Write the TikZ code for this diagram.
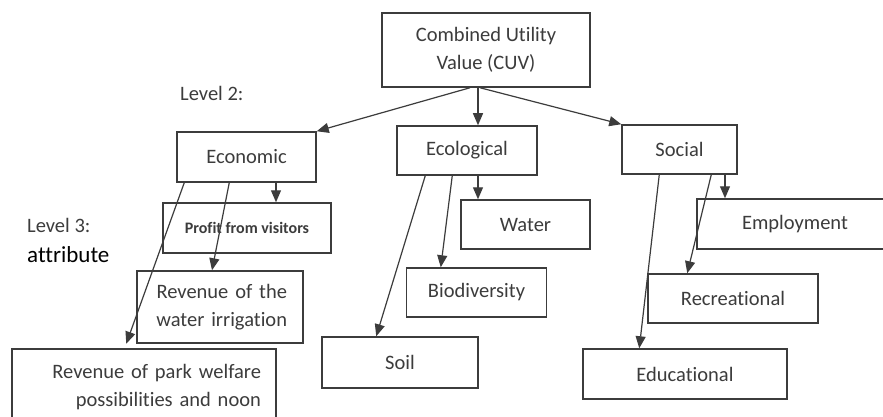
\documentclass[tikz,border=0pt]{standalone}
\usepackage{fontspec}
\setmainfont[Ligatures=NoCommon]{Carlito}
\usetikzlibrary{arrows.meta}
\definecolor{boxgray}{RGB}{60,60,60}
\begin{document}
\begin{tikzpicture}[x=1pt,y=-1pt,
        box/.style={draw=boxgray, line width=1.5pt, text=boxgray, minimum height=49pt, inner sep=0pt, align=center, font=\fontsize{20.5}{28}\selectfont},
        arr/.style={draw=boxgray, line width=1.2pt, -{Triangle[length=12pt,width=10pt]}},
        lvl/.style={anchor=west, inner sep=0pt, text=boxgray, font=\fontsize{20.5}{24}\selectfont}]
        \useasboundingbox[fill=white] (0,0) rectangle (883,417);
        %draw level 1 and level 2 boxes
        \node[box, minimum width=208pt, minimum height=74pt] (cuv) at (486,50) {Combined Utility\\Value (CUV)};
        \node[box, minimum width=139pt, minimum height=50pt] (econ) at (246.5,157) {Economic};
        \node[box, minimum width=140pt] (ecol) at (467,150.5) {Ecological};
        \node[box, minimum width=115pt] (soc) at (679.5,149.5) {Social};
        % level labels
        \node[lvl] (lvtwo) at (180,93) {Level 2:};
        \node[lvl] (lvthree) at (27,225) {Level 3:};
        \node[lvl, text=black, font=\fontsize{23}{26}\selectfont] (attr) at (27,255) {attribute};

        %draw level 3 boxes
        \node[box, minimum width=168pt, minimum height=50pt, font=\fontsize{16}{18}\selectfont\bfseries] (profit) at (247,228) {Profit from visitors};
        \node[box, minimum width=166pt, minimum height=72pt, text width=134pt, inner xsep=16pt, align=right] (irrig) at (220,307) {Revenue of the\\water irrigation};
        \node[box, minimum width=264pt, minimum height=76pt, text width=234pt, inner xsep=15pt, align=right] (park) at (144,387) {Revenue of park welfare\\possibilities and noon};
        \node[box, minimum width=129pt] (water) at (525.5,224.5) {Water};
        \node[box, minimum width=140pt] (bio) at (476.5,292.5) {Biodiversity};
        \node[box, minimum width=156pt, minimum height=51pt] (soil) at (400,362.5) {Soil};
        \node[box, minimum width=196pt, minimum height=50pt] (employ) at (795,224) {Employment};
        \node[box, minimum width=170pt] (recr) at (733,298.5) {Recreational};
        \node[box, minimum width=204pt, minimum height=50pt] (educ) at (685,374) {Educational};

        % arrows from the top box
        \draw[arr] ([xshift=-16pt]cuv.south) -- (econ.north east);
        \draw[arr] ([xshift=11pt]ecol.north |- cuv.south) -- ([xshift=11pt]ecol.north);
        \draw[arr] ([xshift=-6pt]cuv.south) -- (soc.north west);

        % economic attributes
        \draw[arr] ([xshift=8pt]econ.south west) -- ([xshift=-10pt]irrig.south west);
        \draw[arr] ([xshift=53pt]econ.south west) -- ([xshift=-8pt]irrig.north);
        \draw[arr] ([xshift=29pt]profit.north |- econ.south) -- ([xshift=29pt]profit.north);

        % ecological attributes
        \draw[arr] ([xshift=29pt]ecol.south west) -- ([xshift=55pt]soil.north west);
        \draw[arr] ([xshift=56pt]ecol.south west) -- ([xshift=35pt]bio.north west);
        \draw[arr] ([xshift=-47.5pt]water.north |- ecol.south) -- ([xshift=-47.5pt]water.north);

        % social attributes
        \draw[arr] ([xshift=38pt]soc.south west) -- ([xshift=57pt]educ.north west);
        \draw[arr] ([xshift=90pt]soc.south west) -- ([xshift=40pt]recr.north west);
        \draw[arr] ([xshift=-70pt]employ.north |- soc.south) -- ([xshift=-70pt]employ.north);
\end{tikzpicture}
\end{document}
